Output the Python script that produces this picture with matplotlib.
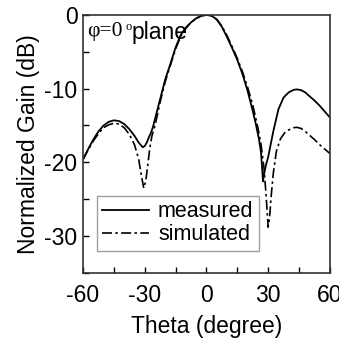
import matplotlib.pyplot as plt
from matplotlib.ticker import MultipleLocator

# measured pattern (phi = 0 plane)
theta_meas = [-60, -57.5, -55, -52.5, -50, -47.5, -45, -42.5, -40, -37.5, -35, -33,
              -31, -30, -29, -28, -27, -26, -25, -22.5, -20, -17.5, -15, -12.5, -10,
              -7.5, -5, -2.5, 0, 2.5, 5, 7.5, 10, 12.5, 15, 17.5, 20, 22.5, 24, 25.5,
              26.5, 27, 27.5, 28, 29, 30, 32.5, 35, 37.5, 40, 42.5, 44, 46, 48, 50,
              52.5, 55, 57.5, 60]
gain_meas = [-19.6, -18.2, -16.9, -15.8, -15.0, -14.5, -14.3, -14.4, -14.8, -15.5, -16.4, -17.3,
             -17.95, -17.8, -17.3, -16.6, -16.0, -15.2, -14.1, -11.4, -8.7, -6.6, -4.4, -2.7, -1.7,
             -1.0, -0.45, -0.1, 0.0, -0.1, -0.6, -1.6, -3.0, -4.5, -6.1, -8.0, -10.3, -13.0, -14.8, -16.8,
             -18.6, -20.5, -22.6, -21.6, -20.3, -19.3, -15.8, -12.8, -11.2, -10.5, -10.15, -10.1, -10.2, -10.5, -11.0,
             -11.6, -12.3, -13.1, -13.9]

# simulated pattern
theta_sim = [-60, -57.5, -55, -52.5, -50, -47.5, -45, -42.5, -40, -37.5, -35, -33,
             -31.5, -30.5, -29.5, -28.5, -27.5, -26.5, -25, -22.5, -20, -17.5, -15, -12.5, -10,
             -7.5, -5, -2.5, 0, 2.5, 5, 7.5, 10, 12.5, 15, 17.5, 20, 22.5, 25, 26.5,
             28, 29, 30, 30.7, 31.5, 32.5, 34, 36, 38, 40, 42.5, 44, 46, 48, 50,
             52.5, 55, 57.5, 60]
gain_sim = [-19.6, -18.3, -17.1, -16.1, -15.3, -14.9, -14.7, -14.8, -15.3, -16.2, -17.6, -19.5,
            -22.0, -23.5, -22.5, -20.3, -18.0, -16.4, -15.0, -11.8, -9.0, -6.8, -4.6, -2.9, -1.8,
            -1.0, -0.5, -0.1, 0.0, -0.1, -0.6, -1.5, -2.8, -4.3, -5.9, -7.7, -9.8, -12.2, -15.3, -17.5,
            -20.8, -24.5, -28.8, -27.5, -24.5, -21.5, -18.5, -16.8, -16.0, -15.6, -15.3, -15.25, -15.4, -15.8, -16.3,
            -16.9, -17.6, -18.2, -18.8]

x_ticks = [-60, -30, 0, 30, 60]
y_ticks = [0, -10, -20, -30]

plt.rcParams['font.family'] = ['Liberation Sans', 'DejaVu Sans']
plt.rcParams['axes.unicode_minus'] = False

fig = plt.figure(figsize=(3.39, 3.41), dpi=100)
ax = fig.add_axes([0.245, 0.2, 0.728, 0.756])

ax.plot(theta_meas, gain_meas, color='black', lw=1.3, label='measured')
ax.plot(theta_sim, gain_sim, color='black', lw=1.2, linestyle=(0, (6, 2, 1.5, 2)),
        label='simulated')

ax.set_xlim(-60, 60)
ax.set_ylim(-35, 0)
ax.set_xticks(x_ticks)
ax.set_yticks(y_ticks)
ax.xaxis.set_minor_locator(MultipleLocator(15))
ax.yaxis.set_minor_locator(MultipleLocator(5))
ax.tick_params(which='both', direction='in', labelsize=16.5)
ax.tick_params(which='major', length=4, width=1)
ax.tick_params(which='minor', length=4, width=1)
ax.tick_params(axis='x', pad=8)
ax.tick_params(axis='y', pad=4)
for s in ax.spines.values():
    s.set_linewidth(1.2)
    s.set_color('#333333')

ax.set_xlabel('Theta (degree)', fontsize=16.5, labelpad=6)
ax.set_ylabel('Normalized Gain (dB)', fontsize=16.5, labelpad=3)

ax.text(0.018, 0.935, 'φ=0', transform=ax.transAxes, fontsize=15.5,
        family=['Liberation Serif', 'DejaVu Serif'], va='center')
ax.text(0.172, 0.955, 'o', transform=ax.transAxes, fontsize=9,
        family=['Liberation Serif', 'DejaVu Serif'], va='center')
ax.text(0.198, 0.932, 'plane', transform=ax.transAxes, fontsize=16.5, va='center')

leg = ax.legend(loc='lower left', bbox_to_anchor=(0.055, 0.086), fontsize=15.5,
                frameon=True, fancybox=False, handlelength=2.2, handletextpad=0.4,
                borderpad=0.25, labelspacing=0.1, borderaxespad=0)
leg.get_frame().set_edgecolor('#888888')
leg.get_frame().set_linewidth(1.0)

fig.savefig('out.png', dpi=100)
